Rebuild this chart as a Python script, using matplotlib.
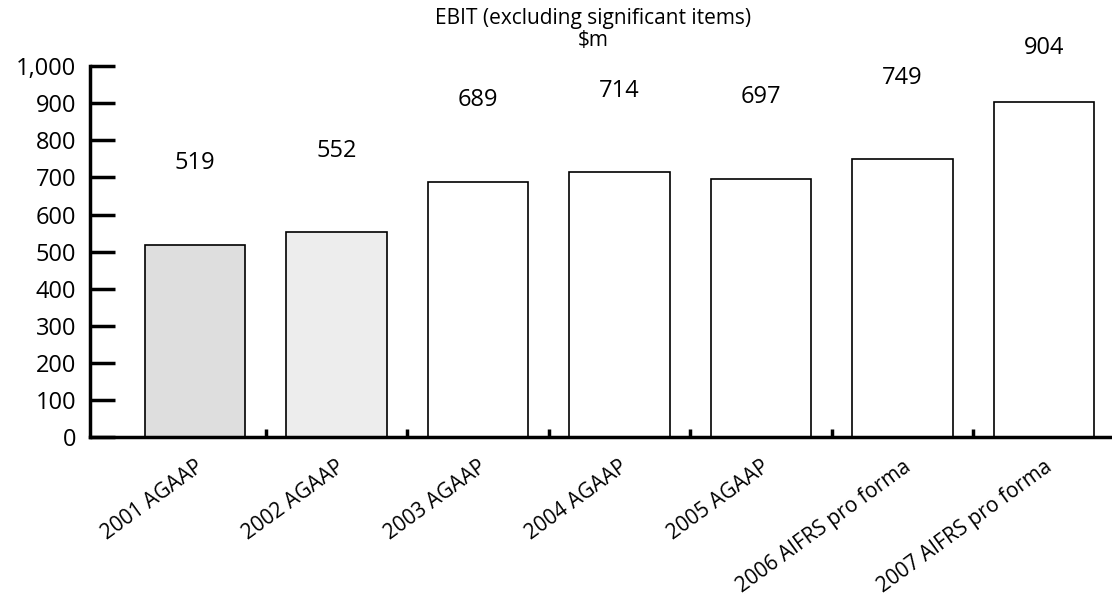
import matplotlib.pyplot as plt
import numpy as np

categories = [
    "2001 AGAAP",
    "2002 AGAAP",
    "2003 AGAAP",
    "2004 AGAAP",
    "2005 AGAAP",
    "2006 AIFRS pro forma",
    "2007 AIFRS pro forma",
]
ebit = [519, 552, 689, 714, 697, 749, 904]
bar_fills = ["#dedede", "#ededed", "white", "white", "white", "white", "white"]

plt.rcParams["font.family"] = ["Open Sans", "DejaVu Sans"]

fig = plt.figure(figsize=(11.12, 6.07), dpi=100)
ax = fig.add_axes([0.081, 0.280, 0.919, 0.611])

x = np.arange(len(categories))
ax.bar(x, ebit, width=0.71, color=bar_fills, edgecolor="black", linewidth=1.2)

for xi, value in zip(x, ebit):
    ax.text(xi, min(value + 220, 1050), f"{value}", ha="center", va="center", fontsize=17)

ax.set_xlim(-0.74, 6.48)
ax.set_ylim(0, 1000)
ax.set_yticks(np.arange(0, 1001, 100))
ax.set_yticklabels([f"{v:,}" for v in range(0, 1001, 100)], fontsize=17)
ax.tick_params(axis="y", direction="in", length=18, width=2.5, pad=10)

ax.set_xticks(x)
ax.set_xticklabels(categories, rotation=36, ha="right", rotation_mode="anchor", fontsize=15)
ax.tick_params(axis="x", which="major", length=0, pad=14)
ax.set_xticks(x[:-1] + 0.5, minor=True)
ax.tick_params(axis="x", which="minor", direction="in", length=6, width=2.5)

for side in ["top", "right"]:
    ax.spines[side].set_visible(False)
ax.spines["left"].set_linewidth(2.5)
ax.spines["bottom"].set_linewidth(2.5)

fig.text(0.533, 0.970, "EBIT (excluding significant items)", ha="center", va="center", fontsize=15)
fig.text(0.533, 0.933, "$m", ha="center", va="center", fontsize=15)

fig.savefig("out.png", dpi=100)
